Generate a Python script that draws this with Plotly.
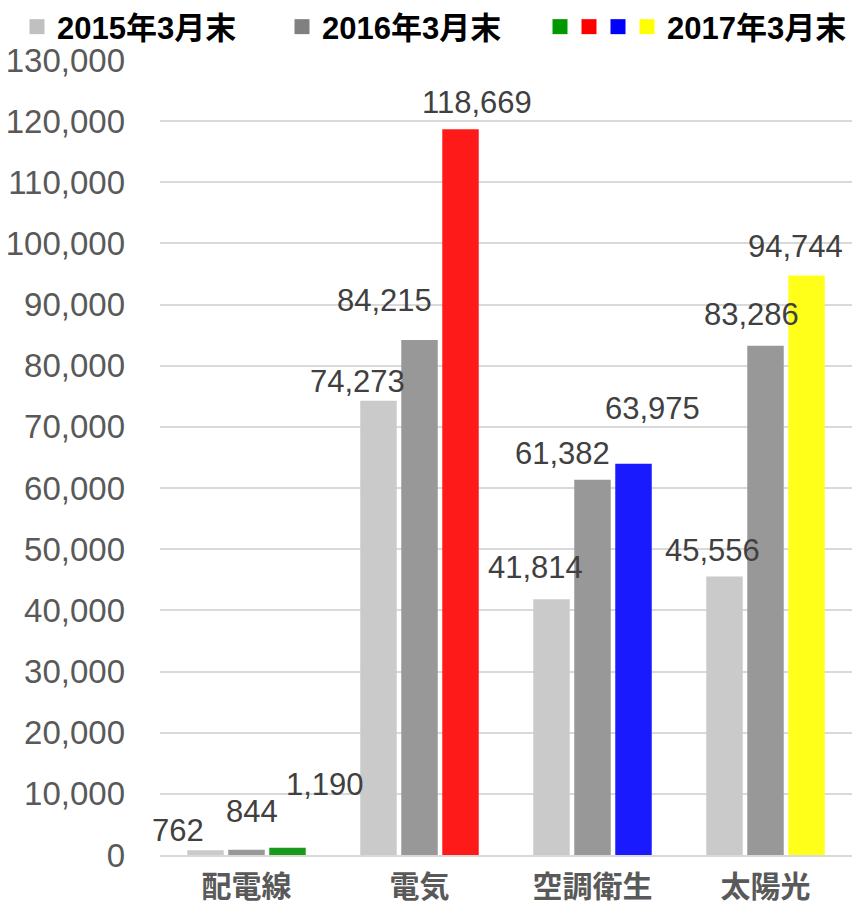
import plotly.graph_objects as go

# ---- data ----
categories = ["配電線", "電気", "空調衛生", "太陽光"]
series_names = ["2015年3月末", "2016年3月末", "2017年3月末"]
v2015 = [762, 74273, 41814, 45556]
v2016 = [844, 84215, 61382, 83286]
v2017 = [1190, 118669, 63975, 94744]
y_ticks = list(range(0, 130001, 10000))

# ---- styles ----
c2015 = "#cacaca"
c2016 = "#989898"
c2017 = ["#1a9a1a", "#ff1a1a", "#1a1aff", "#ffff1a"]
legend_colors = ["#c0c0c0", "#808080", "#009900", "#ff0000", "#0000ff", "#ffff00"]
legend_left_px = [17, 282, 540, 569, 598, 627]
NUM_FONT = "Liberation Sans, Arial, sans-serif"
CJK_FONT = "Liberation Sans, Noto Sans CJK JP, sans-serif"
W, H = 856, 902
bargap = 0.289
slot = (1 - bargap) / 3

# label pixel offsets (manually placed labels in the original)
label_dx = [[-28, -21, -16, -12], [5, -35, -30, -14], [37, 16, 19, -11]]
label_dy = [[20, 19, 32, 26], [38, 39, 26, 31], [63, 27, 55, 29]]

fig = go.Figure()
series = [v2015, v2016, v2017]
colors = [c2015, c2016, c2017]
for name, vals, col in zip(series_names, series, colors):
    fig.add_trace(go.Bar(x=categories, y=vals, name=name, marker=dict(color=col, line=dict(width=0)),
                         showlegend=False))

# legend entries, each in its own legend box so they can be spaced like the original
legend_names = [series_names[0], series_names[1], "", "", "", series_names[2]]
legend_layouts = {}
for k, (nm, lc, lx) in enumerate(zip(legend_names, legend_colors, legend_left_px)):
    key = "legend" if k == 0 else f"legend{k + 1}"
    fig.add_trace(go.Scatter(x=[None], y=[None], mode="markers", name=nm, legend=key,
                             marker=dict(symbol="square", size=15, color=lc), showlegend=True))
    legend_layouts[key] = dict(
        orientation="h", xref="container", yref="container", x=lx / W, y=1.0,
        xanchor="left", yanchor="top", itemwidth=30, bgcolor="rgba(0,0,0,0)",
        borderwidth=0,
        font=dict(family=CJK_FONT, size=31, color="#000000", weight="bold"))

annotations = []
for i, vals in enumerate(series):
    for j, v in enumerate(vals):
        annotations.append(dict(
            x=j + (i - 1) * slot, y=v, xref="x", yref="y",
            text=f"{v:,}", showarrow=False, yanchor="middle", xanchor="center",
            xshift=label_dx[i][j], yshift=label_dy[i][j],
            font=dict(family=NUM_FONT, size=31, color="#404040")))

fig.update_layout(
    width=W, height=H,
    margin=dict(l=160, r=4, t=60, b=47, autoexpand=False),
    paper_bgcolor="white", plot_bgcolor="white",
    barmode="group", bargap=bargap, bargroupgap=0.11,
    annotations=annotations,
    **legend_layouts,
)
fig.update_xaxes(type="category", range=[-0.5, 3.5], showgrid=False, showline=True,
                 linecolor="#d9d9d9", linewidth=2, ticks="", ticklabelstandoff=4,
                 tickfont=dict(family=CJK_FONT, size=30, color="#595959", weight="bold"))
fig.update_yaxes(range=[0, 130000], tickvals=y_ticks, tickformat=",", showgrid=True,
                 gridcolor="#d9d9d9", gridwidth=2, zeroline=False, showline=False, ticks="",
                 ticklabelstandoff=34,
                 tickfont=dict(family=NUM_FONT, size=33, color="#595959"))

fig.write_html("out.html", config={"displayModeBar": False},
               post_script="document.body.style.margin='0';document.body.style.overflow='hidden';")
